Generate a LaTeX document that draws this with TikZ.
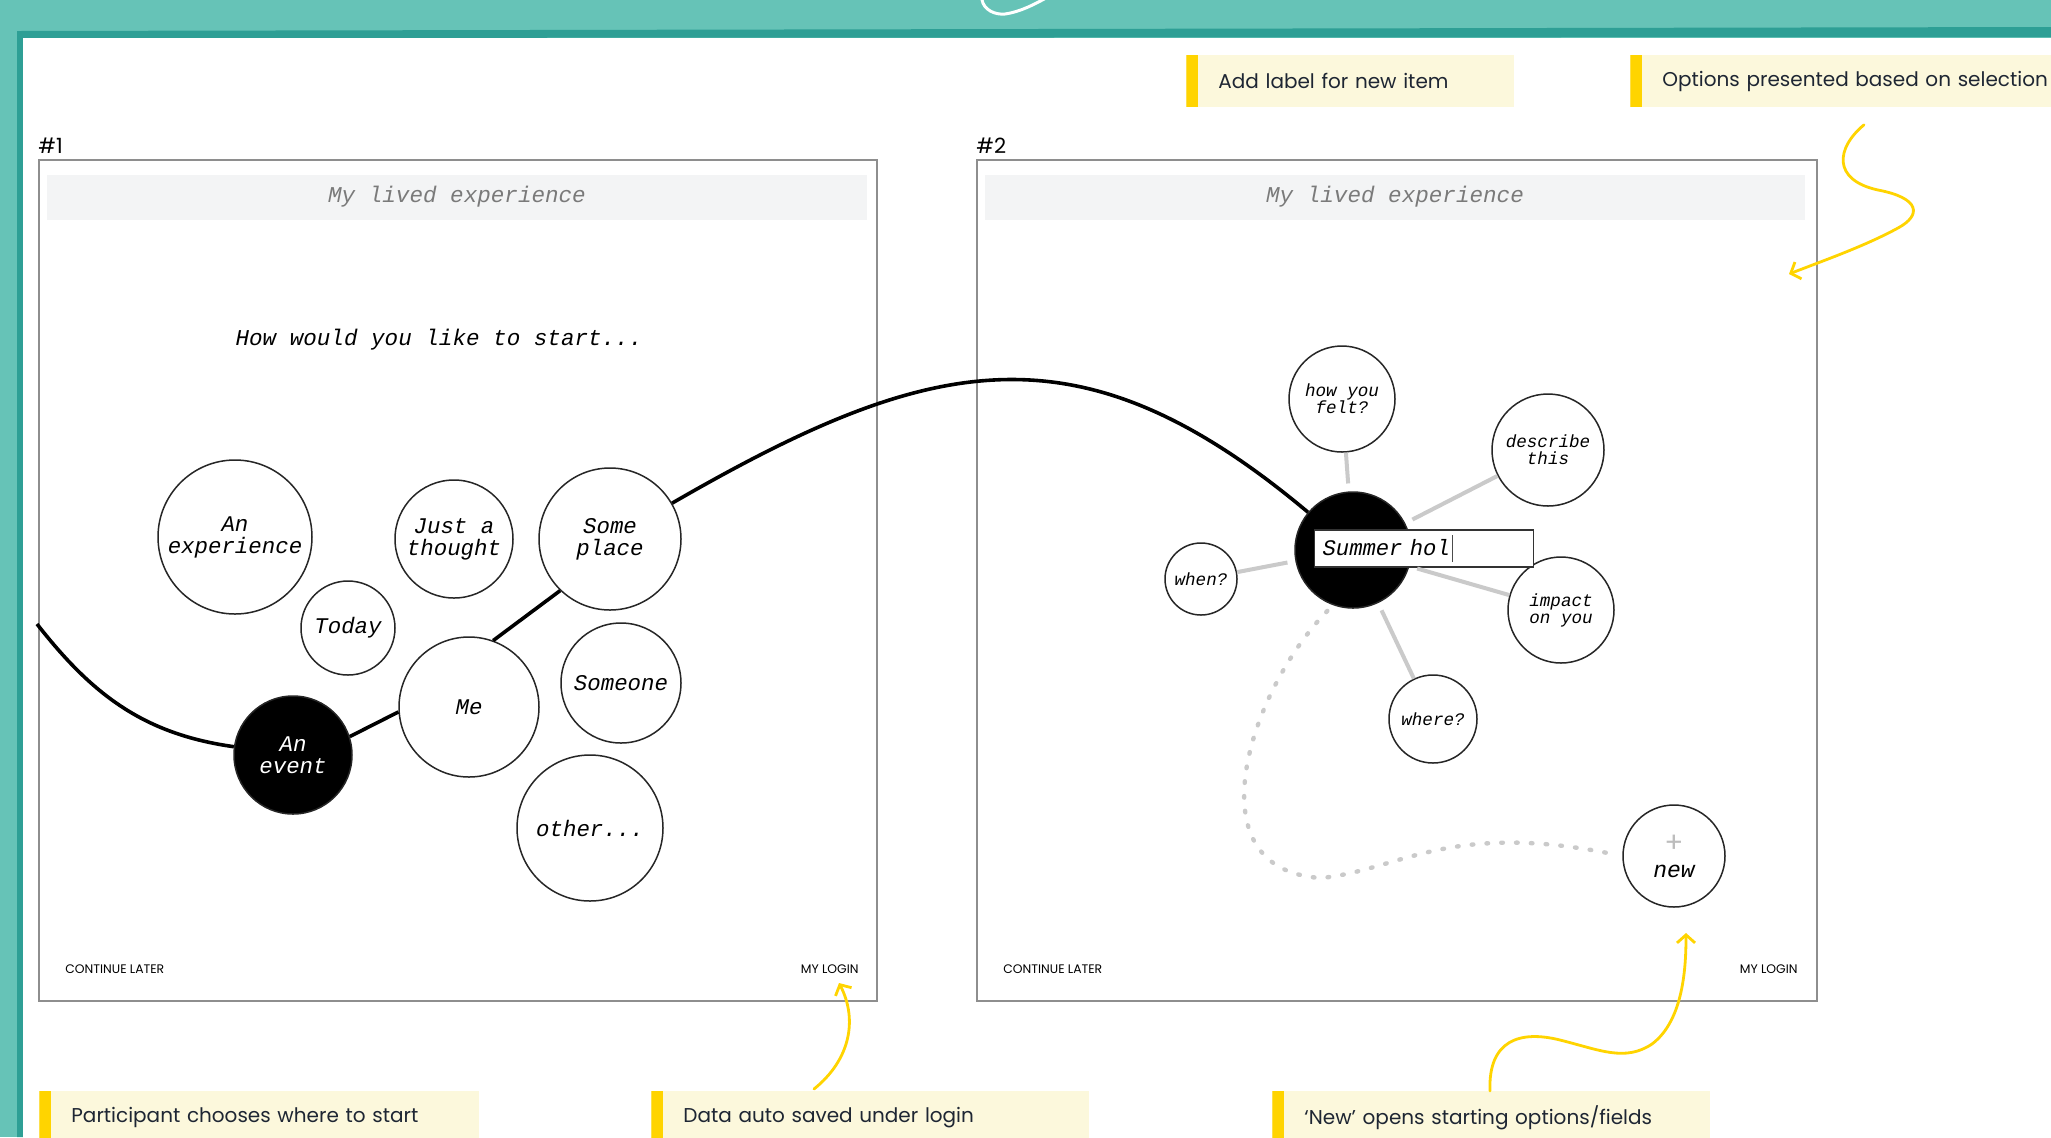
\documentclass[tikz,border=0pt]{standalone}
\usepackage{fontspec}
\setmainfont{Poppins}
\setmonofont{Liberation Mono}
\usetikzlibrary{arrows.meta,calc}
\definecolor{tealbg}{HTML}{66C3B7}
\definecolor{tealdark}{HTML}{2E9F95}
\definecolor{memofill}{HTML}{FCF8DC}
\definecolor{memobar}{HTML}{FFD400}
\definecolor{memotext}{HTML}{1E2633}
\definecolor{headfill}{HTML}{F3F4F5}
\definecolor{headtext}{HTML}{7A7A7A}
\definecolor{spokegray}{HTML}{CACACA}
\definecolor{framegray}{HTML}{8E8E8E}
\definecolor{plusgray}{HTML}{BDBDBD}
\newcommand{\typecaret}{\hspace{1pt}\textcolor{black!70}{\rule[-3.5pt]{0.5pt}{13.5pt}}}

\begin{document}
\begin{tikzpicture}[x=0.5pt, y=-0.5pt,
    bubble/.style={circle, draw=black!85, line width=0.75pt, fill=white, inner sep=0pt,
        minimum size=#1, align=center, font=\ttfamily\itshape\fontsize{11.2}{11}\selectfont},
    ask/.style={bubble=#1, font=\ttfamily\itshape\fontsize{8.8}{8.5}\selectfont},
    picked/.style={fill=black, text=white},
    entry/.style={anchor=west, draw=black!80, line width=0.6pt, fill=white, text width=101.5pt,
        minimum height=18.5pt, inner xsep=4pt, inner ysep=0pt, align=left,
        font=\ttfamily\itshape\fontsize{11.1}{12}\selectfont},
    spoke/.style={spokegray, line width=2pt, shorten <=4pt},
    trail/.style={spokegray, line width=2.2pt, line cap=round, dash pattern=on 0.8pt off 6.6pt, shorten <=4pt, shorten >=3pt},
    track/.style={black, line width=1.8pt},
    memo/.style={anchor=north west, fill=memofill, text=memotext, text width=#1, minimum height=26pt,
        inner xsep=16pt, align=left, font=\fontsize{10}{12}\selectfont,
        path picture={\fill[memobar] (path picture bounding box.north west) rectangle ([xshift=6pt]path picture bounding box.south west);}},
    nudge/.style={memobar, line width=1.4pt, line cap=round, -{Straight Barb[length=4pt, width=9pt]}},
    panel/.style={draw=framegray, line width=1pt},
    header/.style={fill=headfill, text=headtext, minimum width=410pt, minimum height=22.5pt,
        font=\ttfamily\itshape\fontsize{11.3}{12}\selectfont},
    tag/.style={inner sep=0pt, font=\fontsize{10.5}{12}\selectfont},
    footer/.style={inner sep=0pt, font=\fontsize{6.2}{7}\selectfont}
]
    \useasboundingbox (0,0) rectangle (2051,1137);

    % Teal frame round the page
    \fill[tealbg] (0,0) rectangle (2051,1137);
    \fill[tealdark] (17,31) -- (2051,27) -- (2051,37) -- (23,38) -- (23,1137) -- (17,1137) -- cycle;
    \fill[white] (23,38) rectangle (2051,1137);
    \draw[white, line width=1.5pt, line cap=round] (982,0) .. controls (984,10) and (995,15) .. (1005,14) .. controls (1020,12) and (1035,4) .. (1046,-2);

    % Draw the two screens
    \draw[panel] (39,160) rectangle (877,1001);
    \draw[panel] (977,160) rectangle (1817,1001);
    \node[tag, anchor=west] (tag1) at (38,146) {\#1};
    \node[tag, anchor=west] (tag2) at (976,146) {\#2};
    \node[header] (head1) at (457,197) {My lived experience};
    \node[header] (head2) at (1395,197) {My lived experience};
    \node[font=\ttfamily\itshape\fontsize{11.3}{12}\selectfont] (prompt) at (439,340) {How would you like to start...};

    % Footers
    \node[footer, anchor=west] (later1) at (65,969) {CONTINUE LATER};
    \node[footer, anchor=east] (login1) at (859,969) {MY LOGIN};
    \node[footer, anchor=west] (later2) at (1003,969) {CONTINUE LATER};
    \node[footer, anchor=east] (login2) at (1798,969) {MY LOGIN};

    % Screen #1: starting options
    \node[bubble=77pt] (experience) at (235,537) {An\\experience};
    \node[bubble=59pt] (thought) at (454,539) {Just a\\thought};
    \node[bubble=71pt] (place) at (610,539) {Some\\place};
    \node[bubble=47pt] (today) at (348,628) {Today};
    \node[bubble=70pt] (me) at (469,707) {Me};
    \node[bubble=60pt] (someone) at (621,683) {Someone};
    \node[bubble=59pt, picked] (event) at (293,755) {An\\event};
    \node[bubble=73pt] (other) at (590,828) {other...};

    % Screen #2: new item with its questions
    \node[bubble=58pt, picked] (summer) at (1353,550) {};
    \node[ask=53pt] (felt) at (1342,399) {how you\\felt?};
    \node[ask=56pt] (describe) at (1548,450) {describe\\this};
    \node[ask=36pt] (when) at (1201,579) {when?};
    \node[ask=53pt] (impact) at (1561,610) {impact\\on you};
    \node[ask=44pt] (where) at (1433,719) {where?};
    \node[bubble=51pt, font=\ttfamily\itshape\fontsize{11.5}{11}\selectfont] (new) at (1674,856) {{\color{plusgray}\rmfamily\upshape\fontsize{14}{10}\selectfont +}\\[1.5pt]new};
    \node[entry] (entry) at (1314,548.5) {Summer hol\typecaret};

    % Spokes from the new item
    \draw[spoke] (summer) -- (felt);
    \draw[spoke] (summer) -- (describe);
    \draw[spoke] (summer) -- (when);
    \draw[spoke] (summer) -- (impact);
    \draw[spoke] (summer) -- (where);
    \draw[trail] (summer.250) .. controls (1250,690) and (1190,870) .. (1321,878) .. controls (1400,870) and (1450,820) .. (new.west);

    % The path the participant takes
    \coordinate (trackstart) at (37,624);
    \draw[track] (trackstart) to[out=-52, in=172] (event.172);
    \draw[track] (event.18) -- (me.184);
    \draw[track] (me.70) -- (place.226);
    \draw[track] (place) to[out=30, in=140, looseness=1.2] (summer);

    % Notes
    \node[memo=132pt] (addmemo) at (1186,55) {Add label for new item};
    \node[memo=220pt] (optmemo) at (1630,55) {Options presented based on selection};
    \node[memo=188pt] (startmemo) at (39,1091) {Participant chooses where to start};
    \node[memo=187pt] (savememo) at (651,1091) {Data auto saved under login};
    \node[memo=187pt] (newmemo) at (1272,1091) {‘New’ opens starting options/fields};

    % Arrows from the notes
    \coordinate (opttip) at (1789,274);
    \coordinate (savetip) at (839,983);
    \coordinate (newtip) at (1686,933);
    \draw[nudge] ($(optmemo.south west)+(234,17)$) .. controls (1836,148) and (1832,180) .. (1878,190)
        .. controls (1920,198) and (1922,215) .. (1898,228) .. controls (1865,246) and (1825,260) .. (opttip);
    \draw[nudge] ($(savememo.north west)+(163,-2)$) .. controls (850,1060) and (858,1020) .. (savetip);
    \draw[nudge] ($(newmemo.north west)+(218,0)$) .. controls (1488,1040) and (1520,1030) .. (1560,1040)
        .. controls (1600,1050) and (1625,1062) .. (1652,1044) .. controls (1684,1020) and (1686,965) .. (newtip);
\end{tikzpicture}
\end{document}
